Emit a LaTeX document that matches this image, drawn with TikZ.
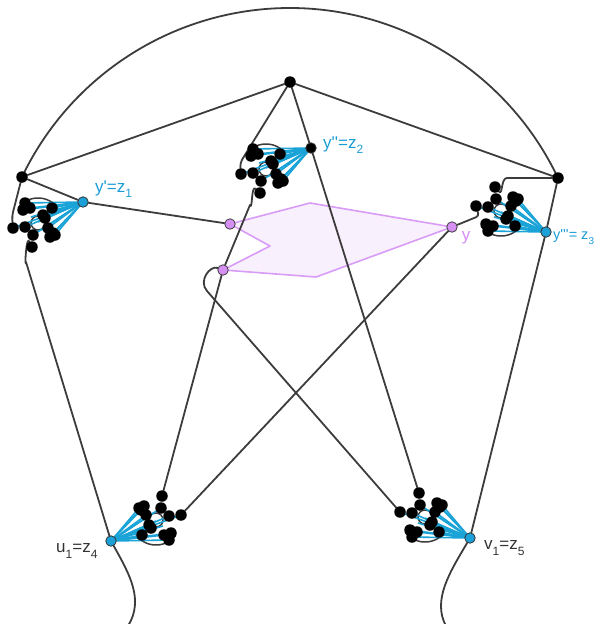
\documentclass[tikz,border=0pt]{standalone}
\usepackage{fontspec}
\newfontfamily\labfont{Liberation Sans}[Ligatures=TeXOff]
\definecolor{hubblue}{HTML}{1CA0D8}
\definecolor{fanblue}{HTML}{1AA3D6}
\definecolor{labblue}{HTML}{1A9DD6}
\definecolor{edgegray}{HTML}{3C3C3C}
\definecolor{polyline}{HTML}{D99CF6}
\definecolor{polyfill}{HTML}{F9F0FD}
\definecolor{ppfill}{HTML}{D690F4}
\definecolor{labpurple}{HTML}{D48BF4}
\newcommand\mysub[1]{\raisebox{-0.32em}{\fontsize{12}{14}\selectfont #1}}
\newcommand\mysmallsub[1]{\raisebox{-0.32em}{\fontsize{10}{12}\selectfont #1}}
\pgfdeclarelayer{bg}
\pgfdeclarelayer{edges}
\pgfsetlayers{bg,edges,main}
\tikzset{
  dotn/.style={circle, fill=black, inner sep=0pt, minimum size=11.5pt},
  hubn/.style={circle, fill=#1, draw=black!80, line width=0.8pt, inner sep=0pt, minimum size=10.5pt},
  ppn/.style={circle, fill=ppfill, draw=black!75, line width=0.8pt, inner sep=0pt, minimum size=10.5pt},
  edge/.style={draw=edgegray, line width=1.8pt, line cap=round, line join=round},
  fan/.style={draw=fanblue, line width=1.6pt},
  ring/.style={draw=edgegray, line width=1.5pt},
  lbl/.style={font=\labfont\fontsize{17}{20}\selectfont, inner sep=0pt},
  cluster/.pic={
    \draw[ring] (-45,21) circle[radius=7pt];
    \draw[ring] plot[domain=-142:-38,samples=30] ({-45+25*cos(\x)},{21+25*sin(\x)});
    \foreach \px/\py in {-58/1,-60/8,-53/6,-31/6,-40/13,-38/16,-70/26,-58/25,-50/33,-35/26,-30/31,-28/33,-33/35,-45/20,-52/15,-42/28}
      \draw[fan] (0,0) -- (\px,\py);
    \node[dotn] (-a) at (-58,1) {};
    \node[dotn] (-b) at (-60,8) {};
    \node[dotn] (-c) at (-53,6) {};
    \node[dotn] (-d) at (-31,6) {};
    \node[dotn] (-e) at (-40,13) {};
    \node[dotn] (-f) at (-38,16) {};
    \node[dotn] (-g) at (-70,26) {};
    \node[dotn] (-h) at (-58,25) {};
    \node[dotn] (-i) at (-50,33) {};
    \node[dotn] (-j) at (-35,26) {};
    \node[dotn] (-k) at (-30,31) {};
    \node[dotn] (-l) at (-28,33) {};
    \node[dotn] (-m) at (-33,35) {};
    \node[dotn] (-n) at (-51,45) {};
    \node[hubn=#1] (-hub) at (0,0) {};
  }
}
\begin{document}
\begin{tikzpicture}[x=1pt,y=-1pt]
\useasboundingbox (0,0) rectangle (597,624);
\node[dotn] (L) at (22,177) {};
\node[dotn] (T) at (290,82) {};
\node[dotn] (R) at (558,178) {};
\coordinate (arctop) at (290,8);
\pic (c1) at (83,202) {cluster=hubblue};
\pic (c2) at (311,148) {cluster=black};
\pic[yscale=-1] (c3) at (546,232) {cluster=hubblue};
\pic[rotate=180] (c4) at (111,541) {cluster=hubblue};
\pic[yscale=-1] (c5) at (470,538) {cluster=hubblue};
\node[ppn] (P1) at (230,224) {};
\node[ppn] (P2) at (223,270) {};
\node[ppn] (P3) at (452,227) {};
\coordinate (qa) at (310,203);
\coordinate (qb) at (316,277);
\coordinate (qc) at (270,246);
\coordinate (lfoot) at (128,626);
\coordinate (rfoot) at (446,626);
\begin{pgfonlayer}{bg}
\draw[draw=polyline, fill=polyfill, line width=1.6pt, line join=round] (P1.center) -- (qa) -- (P3.center) -- (qb) -- (P2.center) -- (qc) -- cycle;
\end{pgfonlayer}
\begin{pgfonlayer}{edges}
\draw[edge] (L.center) .. controls (71.2,73.8) and (175.7,8) .. (arctop) .. controls (404.3,8) and (509,74.8) .. (R.center);
\draw[edge] (L) -- (T) -- (R);
\draw[edge, rounded corners=4pt] (L) -- (12,216) -- (c1-g);
\draw[edge] (L) -- (c1-hub) -- (P1);
\draw[edge] (c1-n) to[out=115, in=-100] (26,262) -- (c4-hub);
\draw[edge] (T) -- (c2-hub) -- (c5-n);
\draw[edge, rounded corners=4pt] (T) -- (240,163) -- (c2-g);
\draw[edge] (c2-n) to[out=135, in=-67] (250,205) -- (P2) -- (c4-n);
\draw[edge] (R) -- (c3-hub) -- (c5-hub);
\draw[edge] (R) -- (507,178) to[out=180, in=-50] (c3-n);
\draw[edge, rounded corners=3pt] (c3-g) -- (479,216) -- (P3) -- (c4-g);
\draw[edge] (P2) .. controls (210,265) and (198,281) .. (207,291) -- (c5-g);
\draw[edge] (c4-hub) .. controls (130,575) and (144,600) .. (lfoot);
\draw[edge] (c5-hub) .. controls (450,572) and (432,600) .. (rfoot);
\end{pgfonlayer}
\node[lbl, text=labblue, anchor=west] (lz1) at (95,189) {y'=z\mysub{1}};
\node[lbl, text=labblue, anchor=west] (lz2) at (323,145) {y''=z\mysub{2}};
\node[lbl, text=labblue, anchor=west, font=\labfont\fontsize{14.5}{17}\selectfont] (lz3) at (553,237) {y'''= z\mysmallsub{3}};
\node[lbl, text=labpurple] (ly) at (466,238) {y};
\node[lbl, text=black!80, anchor=west] (lz4) at (56,551) {u\mysub{1}=z\mysub{4}};
\node[lbl, text=black!80, anchor=west] (lz5) at (484,548) {v\mysub{1}=z\mysub{5}};
\end{tikzpicture}
\end{document}
